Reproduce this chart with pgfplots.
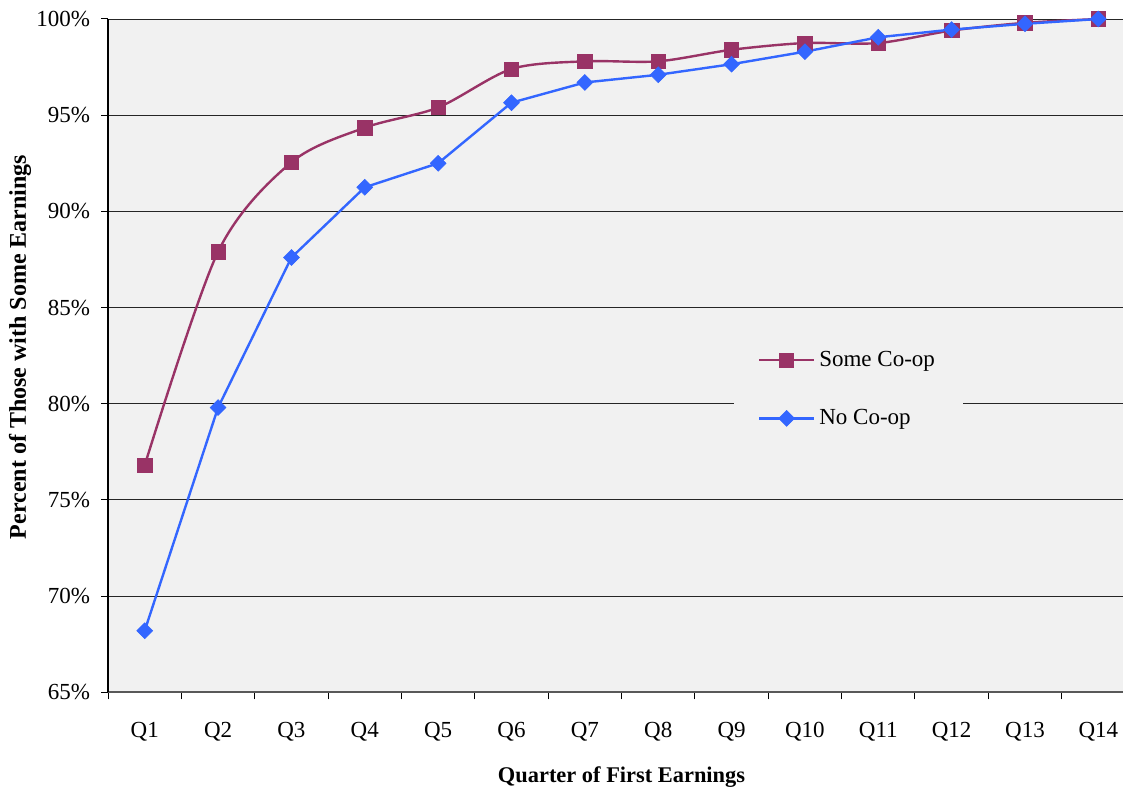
\documentclass[border=0pt]{standalone}
\usepackage{fontspec}
\setmainfont{Liberation Serif}
\usepackage{pgfplots}
\pgfplotsset{compat=1.18}
\definecolor{coop}{HTML}{993366}
\definecolor{nocoop}{HTML}{3366FF}
\definecolor{bg}{HTML}{F1F1F1}
\pgfplotsset{
  mylegimg/.style={legend image code/.code={\draw[mark repeat=2,mark phase=2,##1] plot coordinates {(0pt,0pt) (13.75pt,0pt) (27.5pt,0pt)};}}
}
\begin{document}
\begin{tikzpicture}
\begin{axis}[
  scale only axis, width=513.3pt, height=336.5pt,
  xmin=0.5, xmax=14.5, ymin=65, ymax=100,
  axis background/.style={fill=bg},
  axis x line*=bottom, axis y line*=left,
  x axis line style={gray!70!black, line width=0.8pt, -},
  y axis line style={black, line width=0.6pt, -},
  xtick={0.5,1.5,...,14.5},
  x tick label as interval,
  xticklabels={Q1,Q2,Q3,Q4,Q5,Q6,Q7,Q8,Q9,Q10,Q11,Q12,Q13,Q14},
  xticklabel style={yshift=-8pt},
  ytick={65,70,...,100},
  yticklabel={\pgfmathprintnumber{\tick}\%},
  yticklabel style={xshift=-2pt},
  /pgf/number format/assume math mode=true,
  ymajorgrids, grid style={black!85, line width=0.4pt},
  tick align=outside, major tick length=3.5pt,
  tick style={black, line width=0.5pt},
  font=\fontsize{11.5}{13.5}\selectfont,
  xlabel={\textbf{Quarter of First Earnings}},
  ylabel={\textbf{Percent of Those with Some Earnings}},
  xlabel style={font=\fontsize{11.2}{13}\selectfont, at={(axis description cs:0.5,-0.1263)}, anchor=center},
  ylabel style={font=\fontsize{12}{14}\selectfont, at={(axis description cs:-0.0857,0.513)}, anchor=center},
  mylegimg,
  legend cell align=left,
  legend style={at={(0.609,0.45)}, anchor=west, fill=bg, draw=none,
    row sep=16pt, inner xsep=12pt, inner ysep=8pt,
    font=\fontsize{11.5}{13.5}\selectfont},
]
\addplot[coop, line width=1.2pt, smooth, tension=0.5, mark=square*, mark size=3.6pt,
  mark options={fill=coop, draw=coop, line width=0.3pt}] coordinates {
  (1,76.8)(2,87.9)(3,92.55)(4,94.35)(5,95.4)(6,97.4)(7,97.8)(8,97.8)
  (9,98.4)(10,98.75)(11,98.75)(12,99.4)(13,99.8)(14,100)};
\addlegendentry{Some Co-op}
\addplot[nocoop, line width=1.2pt, mark=square*, mark size=2.8pt,
  mark options={rotate=45, fill=nocoop, draw=nocoop, line width=0.3pt}] coordinates {
  (1,68.2)(2,79.8)(3,87.6)(4,91.25)(5,92.5)(6,95.65)(7,96.7)(8,97.1)
  (9,97.65)(10,98.3)(11,99.05)(12,99.45)(13,99.75)(14,100)};
\addlegendentry{No Co-op}
\end{axis}
\pgfresetboundingbox
\path[use as bounding box] ([xshift=-54pt,yshift=-49.5pt]current axis.south west) rectangle ([xshift=-6pt,yshift=9.5pt]current axis.north east);
\end{tikzpicture}
\end{document}
